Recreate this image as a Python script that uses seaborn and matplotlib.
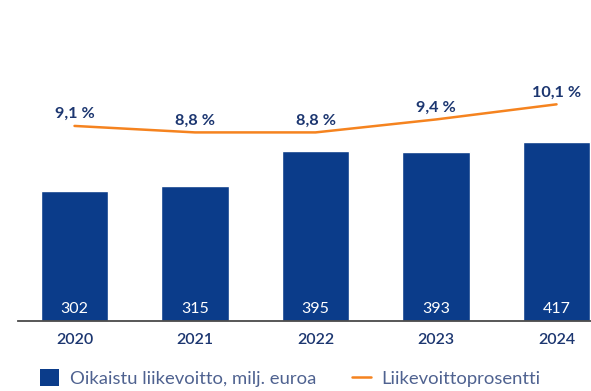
import matplotlib
matplotlib.use("Agg")
import matplotlib.pyplot as plt
import seaborn as sns
import numpy as np
import pandas as pd
from matplotlib.patches import Patch
from matplotlib.lines import Line2D

# Data
years = ["2020", "2021", "2022", "2023", "2024"]
adjusted_ebit = [302, 315, 395, 393, 417]          # milj. euroa
ebit_margin = [9.1, 8.8, 8.8, 9.4, 10.1]            # %
bar_legend = "Oikaistu liikevoitto, milj. euroa"
line_legend = "Liikevoittoprosentti"

BLUE = "#0b3c8a"
ORANGE = "#f5831f"
NAVY = "#1c3670"
LEGEND_TXT = "#4f6290"

sns.set_theme(style="white")
plt.rcParams["font.family"] = ["Lato", "DejaVu Sans"]

W, H = 591, 391
fig = plt.figure(figsize=(W / 100, H / 100), dpi=100)
base_px, top_px, left_px = 320.7, 40, 18
ax = fig.add_axes([left_px / W, (H - base_px) / H, (W - left_px) / W, (base_px - top_px) / H])

df = pd.DataFrame({"year": years, "ebit": adjusted_ebit, "margin": ebit_margin})
sns.barplot(data=df, x="year", y="ebit", color=BLUE, saturation=1, width=0.56, ax=ax)
ax.set_xlim(-0.469, 4.286)
ax.set_ylim(0, 655)

for i, v in enumerate(adjusted_ebit):
    ax.annotate(f"{v}", xy=(i, 0), xytext=(0, 8.5), textcoords="offset points",
                ha="center", va="center", color="white", fontsize=11.5)

for s in ["top", "right", "left"]:
    ax.spines[s].set_visible(False)
ax.spines["bottom"].set_color("#4a4a4a")
ax.spines["bottom"].set_linewidth(1.3)
ax.set_yticks([])
ax.set_xlabel("")
ax.set_ylabel("")
ax.tick_params(axis="x", length=0, pad=9, labelsize=11.5, labelcolor=NAVY)
for t in ax.get_xticklabels():
    t.set_fontweight("semibold")

# Margin line on a secondary scale
ax2 = ax.twinx()
sns.lineplot(x=np.arange(len(years)), y=ebit_margin, color=ORANGE, linewidth=1.8, ax=ax2)
ax2.set_ylim(0.083, 13.078)
ax2.set_yticks([])
ax2.axis("off")
for i, v in enumerate(ebit_margin):
    ax2.annotate(f"{v:.1f}".replace(".", ",") + " %", xy=(i, v), xytext=(0, 3.5),
                 textcoords="offset points", ha="center", va="bottom",
                 color=NAVY, fontsize=11.7, fontweight="bold")

handles = [Patch(facecolor=BLUE, edgecolor="none"),
           Line2D([0], [0], color=ORANGE, linewidth=1.8)]
fig.legend(handles, [bar_legend, line_legend], loc="center left",
           bbox_to_anchor=(40 / W, (H - 378) / H), ncol=2, frameon=False,
           fontsize=13.3, handlelength=1.03, handleheight=1.03, handletextpad=0.6,
           columnspacing=1.9, borderpad=0, borderaxespad=0, labelcolor=LEGEND_TXT)

fig.savefig("out.png", dpi=100)
